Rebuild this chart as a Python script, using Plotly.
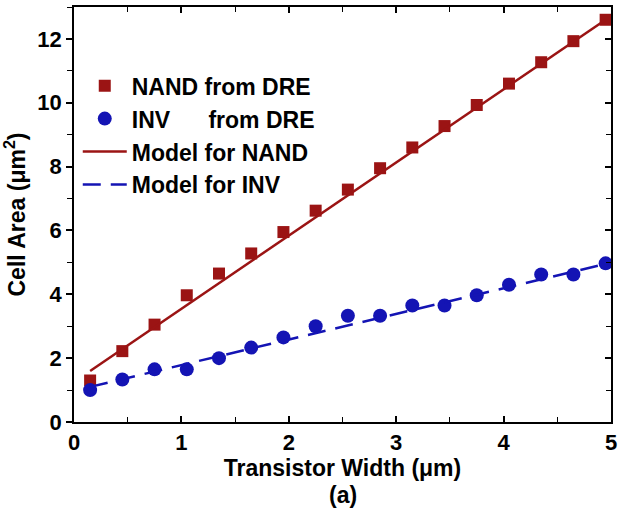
import plotly.graph_objects as go

# Transistor width sweep (um)
width_um = [0.15, 0.45, 0.75, 1.05, 1.35, 1.65, 1.95, 2.25, 2.55, 2.85,
            3.15, 3.45, 3.75, 4.05, 4.35, 4.65, 4.95]

# Cell areas extracted from DRE layouts (um^2)
nand_dre = [1.3, 2.22, 3.05, 3.97, 4.65, 5.28, 5.95, 6.62, 7.28, 7.95,
            8.6, 9.27, 9.93, 10.6, 11.27, 11.93, 12.6]
inv_dre = [1.0, 1.33, 1.65, 1.65, 2.0, 2.33, 2.65, 3.0, 3.33, 3.33,
           3.65, 3.65, 3.97, 4.3, 4.62, 4.62, 4.97]

# Linear area models evaluated at the ends of the sweep
model_width = [0.15, 4.95]
nand_model = [1.6, 12.6]
inv_model = [1.1, 4.95]

x_ticks = [0, 1, 2, 3, 4, 5]
y_ticks = [0, 2, 4, 6, 8, 10, 12]

RED = "#9b1414"
BLUE = "#1414b4"
FONT = dict(family="Liberation Sans, Arial, sans-serif", size=23, color="black", weight=700)
TICKFONT = dict(FONT, size=22)
NB = "\u00a0"

fig = go.Figure()
fig.add_trace(go.Scatter(x=width_um, y=nand_dre, mode="markers", name="NAND from DRE",
                         marker=dict(symbol="square", size=12, color=RED)))
fig.add_trace(go.Scatter(x=width_um, y=inv_dre, mode="markers",
                         name="INV" + NB * 6 + "from DRE",
                         marker=dict(symbol="circle", size=14, color=BLUE)))
fig.add_trace(go.Scatter(x=model_width, y=nand_model, mode="lines", name="Model for NAND",
                         line=dict(color=RED, width=2.5)))
fig.add_trace(go.Scatter(x=model_width, y=inv_model, mode="lines", name="Model for INV",
                         line=dict(color=BLUE, width=2.5, dash="18px,10px")))

axis_common = dict(showgrid=False, zeroline=False, showline=True, linecolor="black",
                   linewidth=1.5, tickcolor="black", ticklen=6, tickwidth=1.5)

fig.update_xaxes(range=[0, 5], tickvals=x_ticks, ticks="inside", tickfont=TICKFONT,
                 minor=dict(dtick=0.5, ticks="inside", ticklen=5, tickcolor="black", tickwidth=1.2),
                 title=dict(text="Transistor Width (\u03bcm)", font=FONT, standoff=0),
                 **axis_common)
fig.update_yaxes(range=[0, 13], tickvals=y_ticks, ticks="outside", tickfont=TICKFONT,
                 minor=dict(dtick=1, ticks="outside", ticklen=5, tickcolor="black", tickwidth=1.2),
                 title=dict(text="Cell Area (\u03bcm<sup>2</sup>)", font=FONT, standoff=6),
                 **axis_common)

# Frame on top and right with inward ticks
fig.update_layout(
    xaxis2=dict(overlaying="x", side="top", range=[0, 5], tickvals=x_ticks, ticks="inside",
                showticklabels=False,
                minor=dict(dtick=0.5, ticks="inside", ticklen=5, tickcolor="black", tickwidth=1.2),
                **axis_common),
    yaxis2=dict(overlaying="y", side="right", range=[0, 13], tickvals=y_ticks, ticks="inside",
                showticklabels=False,
                minor=dict(dtick=1, ticks="inside", ticklen=5, tickcolor="black", tickwidth=1.2),
                **axis_common),
)
fig.add_trace(go.Scatter(x=[None], y=[None], xaxis="x2", yaxis="y2", showlegend=False,
                         hoverinfo="skip"))

fig.add_annotation(text="(a)", x=0.5, y=-0.176, xref="paper", yref="paper",
                   showarrow=False, font=FONT, xanchor="center", yanchor="middle")

fig.update_layout(
    width=624, height=514,
    margin=dict(l=74, r=7, t=7, b=92),
    paper_bgcolor="white", plot_bgcolor="white",
    font=FONT,
    legend=dict(x=0.007, y=0.862, xanchor="left", yanchor="top", bgcolor="rgba(0,0,0,0)",
                font=FONT, itemwidth=44, tracegroupgap=0),
    showlegend=True,
)

fig.write_html("out.html")
